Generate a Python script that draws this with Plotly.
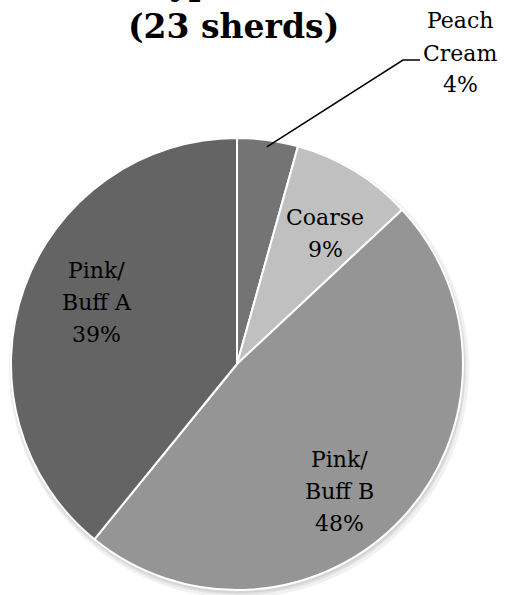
import math
import plotly.graph_objects as go

# ---- data ----
categories = ["Peach Cream", "Coarse", "Pink/Buff B", "Pink/Buff A"]
display_names = ["Peach<br>Cream", "Coarse", "Pink/<br>Buff B", "Pink/<br>Buff A"]
sherd_counts = [1, 2, 11, 9]
title_line1 = "Ware Type"
title_line2 = "(23 sherds)"

# ---- style ----
slice_colors = ["#747474", "#c0c0c0", "#959595", "#646464"]
label_nudges = [(0, 0), (6, 5), (-13, 20), (9, -9)]  # px tweaks of label placement
FONT = "DejaVu Serif"
LINE_SP = 32

W, H = 505, 595
CX, CY, R = 237, 364, 226  # pie centre / radius in page pixels


def px(x):
    return x / W


def py(y):
    return 1 - y / H


fig = go.Figure(go.Pie(
    labels=categories,
    values=sherd_counts,
    textinfo="none",
    sort=False,
    direction="clockwise",
    rotation=0,
    marker=dict(colors=slice_colors, line=dict(color="white", width=2)),
    domain=dict(x=[px(CX - R), px(CX + R)], y=[py(CY + R), py(CY - R)]),
    showlegend=False,
    hoverinfo="label+percent",
))

# soft drop shadow behind the pie
for grow, dx, dy, col in [(4, 2, 4, "#f1f1f1"), (2, 1, 3, "#e2e2e2"), (1, 1, 2, "#d4d4d4")]:
    fig.add_shape(type="circle", xref="paper", yref="paper", layer="below",
                  x0=px(CX - R - grow + dx), x1=px(CX + R + grow + dx),
                  y0=py(CY + R + grow + dy), y1=py(CY - R - grow + dy),
                  fillcolor=col, line=dict(width=0))


def add_label(lines, lx, ly):
    n = len(lines)
    for k, t in enumerate(lines):
        yy = ly + (k - (n - 1) / 2) * LINE_SP
        fig.add_annotation(x=px(lx), y=py(yy), xref="paper", yref="paper",
                           text=t, showarrow=False,
                           font=dict(family=FONT, size=22, color="black"),
                           xanchor="center", yanchor="middle", align="center")


total = sum(sherd_counts)
cum = 0
for i, (name, v) in enumerate(zip(display_names, sherd_counts)):
    mid = 2 * math.pi * (cum + v / 2) / total
    cum += v
    pct = round(100 * v / total)
    if i == 0:
        # small slice: outside label with leader line
        sx = CX + 0.97 * R * math.sin(mid)
        sy = CY - 0.97 * R * math.cos(mid)
        ex, ey = 403, 60
        fig.add_shape(type="path",
                      path=f"M {px(sx)} {py(sy)} L {px(ex)} {py(ey)} L {px(ex + 17)} {py(ey)}",
                      xref="paper", yref="paper", line=dict(color="black", width=1.5))
        lx, ly = 460, 53
    else:
        lx = CX + 0.7 * R * math.sin(mid) + label_nudges[i][0]
        ly = CY - 0.7 * R * math.cos(mid) + label_nudges[i][1]
    add_label(name.split("<br>") + [f"{pct}%"], lx, ly)

# title (first line is cut off by the top of the page)
fig.add_annotation(x=px(233), y=py(27), xref="paper", yref="paper",
                   text=f"<b>{title_line2}</b>", showarrow=False,
                   font=dict(family=FONT, size=33, color="black"),
                   xanchor="center", yanchor="middle")
fig.add_annotation(x=px(40), y=py(-17), xref="paper", yref="paper",
                   text=f"<b>{title_line1}</b>", showarrow=False,
                   font=dict(family=FONT, size=33, color="black"),
                   xanchor="left", yanchor="middle")

fig.update_layout(width=W, height=H, margin=dict(l=0, r=0, t=0, b=0),
                  paper_bgcolor="white", plot_bgcolor="white")

fig.write_html("out.html", config={"displayModeBar": False},
               post_script="document.body.style.margin='0';document.body.style.overflow='hidden';")
